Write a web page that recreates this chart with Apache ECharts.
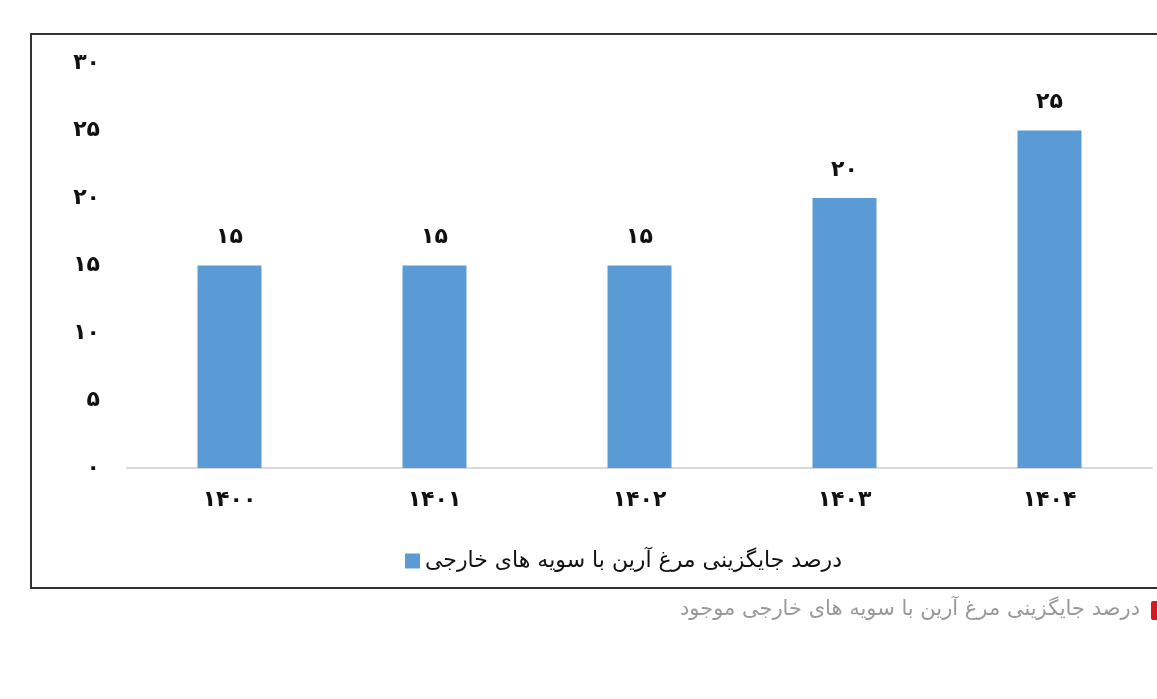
<!DOCTYPE html>
<html>
<head>
<meta charset="utf-8">
<script src="https://cdn.jsdelivr.net/npm/echarts@6/dist/echarts.min.js"></script>
<style>
  html, body { margin: 0; padding: 0; background: #fff; }
  #chart { width: 1157px; height: 699px; }
</style>
</head>
<body>
<div id="chart"></div>
<script>
// داده ها
var years = ['1400', '1401', '1402', '1403', '1404'];
var percent = [15, 15, 15, 20, 25];
var seriesName = 'درصد جایگزینی مرغ آرین با سویه های خارجی';
var caption = 'درصد جایگزینی مرغ آرین با سویه های خارجی موجود';

// تبدیل به رقم فارسی
function fa(n) {
    return String(n).replace(/[0-9]/g, function (d) {
        return '۰۱۲۳۴۵۶۷۸۹'[d];
    });
}

var font = '"DejaVu Sans", "Noto Sans", sans-serif';

var option = {
    backgroundColor: '#fff',
    animation: false,
    grid: { left: 127, right: 5, top: 63, bottom: 231 },
    xAxis: {
        type: 'category',
        data: years,
        axisLine: { lineStyle: { color: '#d9d9d9', width: 2 } },
        axisTick: { show: false },
        axisLabel: {
            margin: 21,
            color: '#111',
            fontSize: 22,
            fontWeight: 'bold',
            fontFamily: font,
            formatter: function (v) { return fa(v); }
        }
    },
    yAxis: {
        type: 'value',
        min: 0,
        max: 30,
        interval: 5,
        splitLine: { show: false },
        axisLine: { show: false },
        axisTick: { show: false },
        axisLabel: {
            margin: 27,
            color: '#111',
            fontSize: 22,
            fontWeight: 'bold',
            fontFamily: font,
            formatter: function (v) { return fa(v); }
        }
    },
    legend: {
        left: 400,
        top: 545,
        itemWidth: 15,
        itemHeight: 15,
        itemGap: 8,
        icon: 'rect',
        textStyle: { fontSize: 22, color: '#111', fontFamily: font },
        data: [seriesName]
    },
    series: [{
        name: seriesName,
        type: 'bar',
        data: percent,
        barWidth: 64,
        itemStyle: { color: '#5b9bd5' },
        label: {
            show: true,
            position: 'top',
            distance: 17,
            color: '#111',
            fontSize: 22,
            fontWeight: 'bold',
            fontFamily: font,
            formatter: function (p) { return fa(p.value); }
        }
    }],
    graphic: [
        {
            type: 'rect',
            shape: { x: 31, y: 34, width: 1140, height: 554 },
            style: { fill: 'none', stroke: '#333', lineWidth: 2 },
            silent: true
        },
        {
            type: 'rect',
            shape: { x: 1151, y: 601, width: 10, height: 19, r: 2 },
            style: { fill: '#d71920' },
            silent: true
        },
        {
            type: 'text',
            right: 17,
            top: 599,
            style: { text: caption, fill: '#999', fontSize: 21, fontFamily: font }
        }
    ]
};

var myChart = echarts.init(document.getElementById('chart'));
myChart.setOption(option);
</script>
</body>
</html>
